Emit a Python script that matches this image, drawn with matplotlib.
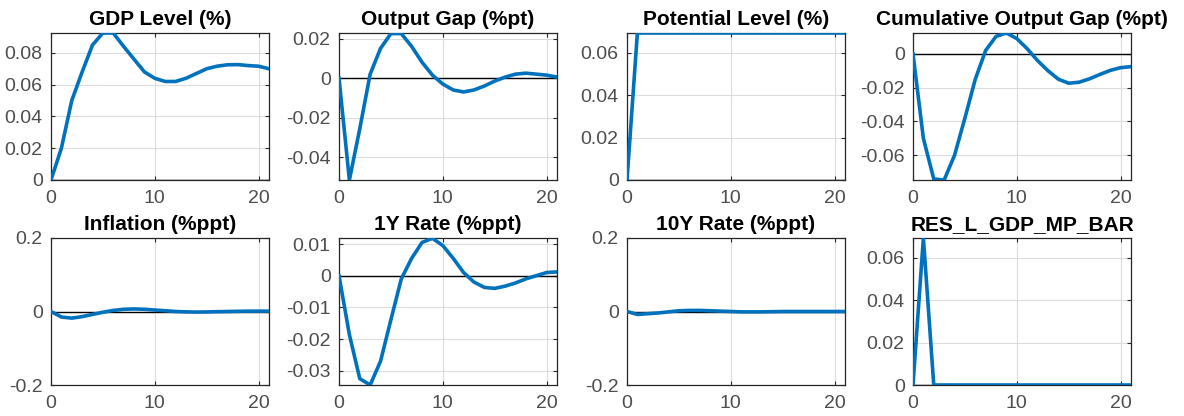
import numpy as np
import matplotlib
matplotlib.use('Agg')
import matplotlib.pyplot as plt
from matplotlib.ticker import FuncFormatter

plt.rcParams['font.family'] = ['Liberation Sans', 'DejaVu Sans']

# periods 0..21
t = list(range(22))

titles = ['GDP Level (%)', 'Output Gap (%pt)', 'Potential Level (%)',
          'Cumulative Output Gap (%pt)', 'Inflation (%ppt)', '1Y Rate (%ppt)',
          '10Y Rate (%ppt)', 'RES_L_GDP_MP_BAR']

gdp_level = [0, 0.020, 0.050, 0.068, 0.085, 0.0925, 0.0925, 0.084, 0.076, 0.068,
             0.064, 0.062, 0.062, 0.064, 0.067, 0.070, 0.0716, 0.0725, 0.0726,
             0.072, 0.0716, 0.070]
output_gap = [0, -0.0515, -0.0256, 0.002, 0.015, 0.0225, 0.0225, 0.016, 0.008,
              0.0015, -0.003, -0.006, -0.007, -0.006, -0.004, -0.0015, 0.0005,
              0.002, 0.0025, 0.002, 0.0015, 0.0005]
potential = [0] + [0.0693] * 21
cum_gap = [0, -0.050, -0.074, -0.0746, -0.060, -0.038, -0.015, 0.002, 0.0103,
           0.0123, 0.009, 0.003, -0.004, -0.010, -0.015, -0.0174, -0.0168,
           -0.0148, -0.0122, -0.0098, -0.0082, -0.0076]
inflation = [0, -0.015, -0.018, -0.014, -0.008, -0.002, 0.003, 0.006, 0.007,
             0.006, 0.004, 0.002, 0.0, -0.001, -0.0015, -0.0012, -0.0005, 0.0,
             0.0005, 0.001, 0.001, 0.001]
rate_1y = [0, -0.0186, -0.0325, -0.0345, -0.027, -0.0139, -0.001, 0.0055, 0.0105,
           0.0118, 0.0095, 0.0055, 0.001, -0.002, -0.0037, -0.004, -0.0033,
           -0.0023, -0.001, 0.0, 0.001, 0.0012]
rate_10y = [0, -0.008, -0.006, -0.004, -0.001, 0.002, 0.003, 0.003, 0.002,
            0.001, 0.0, -0.001, -0.001, -0.001, -0.0005, 0.0, 0.0, 0.0, 0.0,
            0.0, 0.0, 0.0]
res_bar = [0, 0.0693] + [0] * 20

series = [gdp_level, output_gap, potential, cum_gap,
          inflation, rate_1y, rate_10y, res_bar]
ylims = [(0, 0.0925), (-0.0515, 0.0228), (0, 0.0693), (-0.0746, 0.0123),
         (-0.2, 0.2), (-0.0345, 0.0119), (-0.2, 0.2), (0, 0.0693)]
yticks = [[0, 0.02, 0.04, 0.06, 0.08], [-0.04, -0.02, 0, 0.02],
          [0, 0.02, 0.04, 0.06], [-0.06, -0.04, -0.02, 0],
          [-0.2, 0, 0.2], [-0.03, -0.02, -0.01, 0, 0.01],
          [-0.2, 0, 0.2], [0, 0.02, 0.04, 0.06]]

W, H = 1184, 416
fig = plt.figure(figsize=(W / 100, H / 100), dpi=100)

lefts = [51, 339, 627, 913]
tops = [33, 238]
aw, ah = 218, 147

fmt = FuncFormatter(lambda v, p: '%g' % round(v, 6))

for i in range(8):
    r, c = divmod(i, 4)
    ax = fig.add_axes([lefts[c] / W, (H - tops[r] - ah) / H, aw / W, ah / H])
    ax.axhline(0, color='black', lw=1.0, zorder=1)
    ax.plot(t, series[i], color='#0072BD', lw=2.6, zorder=3)
    ax.set_xlim(0, 21)
    ax.set_ylim(*ylims[i])
    ax.set_xticks([0, 10, 20])
    ax.set_yticks(yticks[i])
    ax.yaxis.set_major_formatter(fmt)
    ax.grid(True, color='#dcdcdc', lw=0.8, zorder=0)
    ax.set_axisbelow(True)
    ax.tick_params(direction='in', length=3, width=0.8, colors='#262626',
                   labelcolor='#4d4d4d', labelsize=14, top=True, right=True)
    ax.tick_params(axis='x', pad=7)
    ax.tick_params(axis='y', pad=6)
    for s in ax.spines.values():
        s.set_color('#262626')
        s.set_linewidth(0.9)
    ax.set_title(titles[i], fontsize=15, fontweight='bold', pad=6)

plt.savefig('out.png', dpi=100)
